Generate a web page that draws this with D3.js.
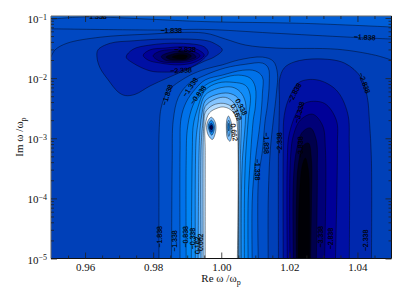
<!DOCTYPE html>
<html>
<head>
<meta charset="utf-8">
<script src="https://cdn.jsdelivr.net/npm/d3@7"></script>
<style>
body { margin: 0; background: #fff; }
svg { display: block; }
text { font-family: "Liberation Serif", serif; fill: #111; }
.lab { font-family: "Liberation Sans", sans-serif; font-size: 7px; text-anchor: middle; dominant-baseline: central; fill: #000; stroke: #000; stroke-width: 0.15; }
</style>
</head>
<body>
<svg width="407" height="291"></svg>
<script>
// contour levels and the colour of each band between them
var levels = [-5.838,-5.338,-4.838,-4.338,-3.838,-3.338,-2.838,-2.338,-2.0,-1.838,-1.338,-0.838,-0.338,0.162,0.662,1.162,1.662,2.162,2.662];
var bandColors = ["#000000","#000006","#000020","#00004c","#000078","#000098","#0010a4","#0028ae","#0040b8","#0048c2","#004ec8","#005ed8","#0072ea","#0084f4","#108cf8","#2c9cff","#54aeff","#84c4ff","#b4dcff","#ffffff"];

// axes
var xMajor = [0.96,0.98,1.00,1.02,1.04];
var xMinor = [0.955,0.965,0.97,0.975,0.985,0.99,0.995,1.005,1.01,1.015,1.025,1.03,1.035,1.045];
var yMajorExp = [-5,-4,-3,-2,-1];
var yMultiples = [2,3,4,5,6,7,8,9];

// contours, points are [Re w/wp, log10 Im w/wp]
// lines that run across the top of the plot
var topM0838 = [[.95,-1.02],[.96,-.98],[.9674,-.99],[.9791,-1.02],[.995,-1.06],[1.0244,-1.09],[1.05,-1.15]];
var topM1338 = [[.95,-1.18],[.9821,-1.2],[.995,-1.19],[1.0147,-1.25],[1.038,-1.32],[1.05,-1.35]];
var topM1838 = [[.95,-1.65],[.9512,-1.53],[.9547,-1.42],[.9644,-1.32],[.9782,-1.27],[.995,-1.25],[1.0012,-1.35],[1.0071,-1.45],[1.0162,-1.5],[1.0341,-1.52],[1.0453,-1.62],[1.05,-1.7]];

// central hump, open at the bottom
var humpM1838 = [[.9817,-5.1],[.9817,-4],[.9818,-2.82],[.9824,-2.48],[.9841,-2.23],[.9859,-2.13],[.9879,-2.05],[.9909,-1.95],[.9953,-1.85],[1.0003,-1.78],[1.005,-1.7],[1.0121,-1.65],[1.0153,-1.72],[1.0165,-1.92],[1.0162,-2.25],[1.0153,-2.7],[1.0144,-3.2],[1.0138,-4.03],[1.0138,-5.1]];
var humpM1338 = [[.9854,-5.1],[.9856,-3.37],[.9859,-2.7],[.9874,-2.32],[.9903,-2.1],[.9953,-1.95],[1.0012,-1.83],[1.0071,-1.77],[1.0121,-1.75],[1.0138,-1.83],[1.0141,-2.08],[1.0135,-2.48],[1.0129,-2.7],[1.0121,-3.2],[1.0109,-3.7],[1.0109,-5.1]];
var humpM0838 = [[.9879,-5.1],[.9879,-3.2],[.9882,-2.67],[.9897,-2.4],[.9924,-2.18],[.9953,-2.03],[1.0003,-1.95],[1.0062,-1.87],[1.01,-1.88],[1.0121,-1.98],[1.0121,-2.25],[1.0115,-2.7],[1.01,-3.37],[1.0091,-4.03],[1.0091,-5.1]];
var humpM0338 = [[.9897,-5.1],[.9897,-3.37],[.99,-2.87],[.9912,-2.53],[.9932,-2.28],[.9953,-2.12],[1.0003,-2],[1.005,-1.95],[1.0085,-2],[1.01,-2.15],[1.01,-2.48],[1.0094,-2.7],[1.0085,-3.37],[1.0079,-4.03],[1.0079,-5.1]];
var humpP0162 = [[.9912,-5.1],[.9915,-3.2],[.9918,-2.78],[.9929,-2.53],[.9953,-2.2],[.9991,-2.08],[1.0035,-2.07],[1.0071,-2.12],[1.0085,-2.28],[1.0079,-2.7],[1.0071,-3.37],[1.0068,-4.03],[1.0068,-5.1]];
var humpP0662 = [[.9924,-5.1],[.9926,-3.03],[.9932,-2.73],[.9938,-2.5],[.9953,-2.28],[.9991,-2.17],[1.0032,-2.15],[1.0056,-2.23],[1.0071,-2.4],[1.0071,-2.7],[1.0062,-3.37],[1.0059,-4.03],[1.0059,-5.1]];
var humpP1162 = [[.9932,-5.1],[.9935,-3.2],[.9938,-2.83],[.9944,-2.57],[.9953,-2.38],[.9982,-2.28],[1.0021,-2.25],[1.0047,-2.32],[1.0056,-2.45],[1.0059,-2.7],[1.0056,-3.37],[1.0055,-5.1]];
var humpP1662 = [[.9941,-5.1],[.9941,-3.12],[.9947,-2.7],[.9953,-2.47],[.9982,-2.35],[1.0012,-2.32],[1.0035,-2.4],[1.005,-2.57],[1.0053,-2.78],[1.0051,-3.37],[1.0051,-5.1]];
var humpP2162 = [[.9947,-5.1],[.9947,-3.03],[.9949,-2.78],[.9953,-2.57],[.9976,-2.45],[1.0006,-2.42],[1.0032,-2.48],[1.0047,-2.62],[1.005,-2.87],[1.0049,-5.1]];
var humpP2662 = [[.9953,-5.1],[.9953,-3.2],[.9953,-2.78],[.9965,-2.58],[.9988,-2.5],[1.0006,-2.48],[1.0026,-2.52],[1.0041,-2.62],[1.0047,-2.78],[1.0047,-5.1]];

// closed loops of the upper left minimum
var blobM2338 = [[.9635,-1.65],[.9644,-1.83],[.9668,-2.03],[.9697,-2.23],[.9718,-2.29],[.9747,-2.27],[.9791,-2.13],[.9841,-2],[.9894,-1.87],[.995,-1.72],[.9979,-1.65],[1.0003,-1.53],[.9979,-1.42],[.995,-1.37],[.9835,-1.35],[.9741,-1.38],[.9674,-1.42],[.9638,-1.53]];
var blobM2838 = [[.9721,-1.65],[.9741,-1.52],[.9791,-1.45],[.9879,-1.42],[.995,-1.48],[.9962,-1.58],[.995,-1.67],[.9924,-1.78],[.9882,-1.88],[.9835,-1.9],[.9791,-1.88],[.9741,-1.75]];
var blobM3338 = [[.9771,-1.62],[.9791,-1.53],[.9835,-1.5],[.9894,-1.48],[.9932,-1.53],[.995,-1.62],[.9924,-1.73],[.9879,-1.78],[.9821,-1.75],[.9785,-1.7]];
var blobM3838 = [[.98,-1.63],[.9821,-1.55],[.9879,-1.53],[.9924,-1.57],[.9938,-1.63],[.9909,-1.72],[.9865,-1.74],[.9821,-1.72]];
var blobM4338 = [[.9824,-1.64],[.985,-1.57],[.9885,-1.55],[.9918,-1.6],[.9926,-1.65],[.9903,-1.7],[.9865,-1.72],[.9835,-1.7]];
var blobM4838 = [[.9838,-1.65],[.9865,-1.59],[.9894,-1.58],[.9912,-1.63],[.9903,-1.68],[.9874,-1.7],[.985,-1.69]];
var blobM5338 = [[.9856,-1.65],[.9879,-1.61],[.99,-1.63],[.9894,-1.68],[.9874,-1.68]];

// right hand well, open at the bottom
var wellM2338 = [[1.0168,-5.1],[1.0168,-3.2],[1.0171,-2.37],[1.0171,-2.03],[1.0185,-1.83],[1.0215,-1.73],[1.0282,-1.68],[1.0362,-1.75],[1.0412,-2],[1.0429,-2.32],[1.0435,-2.7],[1.0441,-3.37],[1.0441,-5.1]];
var wellM2838 = [[1.0182,-5.1],[1.0182,-3.2],[1.0185,-2.62],[1.02,-2.32],[1.0229,-2.07],[1.0282,-2.03],[1.0338,-2.2],[1.0371,-2.58],[1.0376,-3.13],[1.0376,-5.1]];
var wellM3338 = [[1.0194,-5.1],[1.0194,-3.37],[1.02,-2.92],[1.0229,-2.5],[1.0253,-2.4],[1.0303,-2.42],[1.0338,-2.7],[1.0341,-3.13],[1.0335,-5.1]];
var wellM3838 = [[1.0202,-5.1],[1.0203,-3.37],[1.0212,-2.95],[1.0232,-2.7],[1.0268,-2.6],[1.0297,-2.78],[1.0306,-3.2],[1.0303,-5.1]];
var wellM4338 = [[1.0212,-5.1],[1.0212,-3.7],[1.0221,-3.2],[1.0238,-2.9],[1.0262,-2.83],[1.0279,-3.03],[1.0282,-3.53],[1.0279,-5.1]];
var wellM4838 = [[1.0221,-5.1],[1.0221,-4.03],[1.0226,-3.45],[1.0241,-3.12],[1.0256,-3.08],[1.0265,-3.37],[1.0265,-4.03],[1.0262,-5.1]];
var wellM5338 = [[1.0226,-5.1],[1.0229,-4.03],[1.0238,-3.45],[1.0247,-3.33],[1.0256,-3.53],[1.0259,-4.03],[1.0259,-5.1]];

// the two little spots inside the white part
var spotL1 = [[.9971,-2.65],[.9982,-2.73],[.9984,-2.87],[.9974,-3.02],[.9962,-2.95],[.9957,-2.82],[.9962,-2.7]];
var spotL2 = [[.9971,-2.7],[.9979,-2.77],[.9979,-2.87],[.9972,-2.95],[.9965,-2.88],[.9962,-2.78]];
var spotL3 = [[.9971,-2.75],[.9976,-2.8],[.9975,-2.87],[.9971,-2.9],[.9966,-2.85],[.9966,-2.78]];
var spotL4 = [[.9971,-2.78],[.9975,-2.82],[.9971,-2.86],[.9966,-2.82]];
var spotR1 = [[1.0021,-2.63],[1.0029,-2.73],[1.0032,-2.87],[1.0026,-3.05],[1.0018,-3],[1.0015,-2.83],[1.0016,-2.7]];
var spotR2 = [[1.0022,-2.7],[1.0026,-2.78],[1.0026,-2.9],[1.0022,-2.97],[1.0018,-2.87],[1.0018,-2.75]];
var spotR3 = [[1.0022,-2.75],[1.0024,-2.82],[1.0022,-2.88],[1.002,-2.82]];

// contour labels: text, Re, log10 Im, rotation
var contourLabels = [
  ["\u22121.338",.9632,-.98,0],["\u22121.838",.9853,-1.2,0],["\u22121.838",1.0421,-1.32,3],
  ["\u22122.838",.9894,-1.52,0],["\u22122.338",.9882,-1.87,-3],
  ["\u22121.838",.9841,-2.28,-72],["\u22121.338",.9909,-2.15,-55],["\u22120.838",.9932,-2.28,-52],
  ["0.338",1.0059,-2.48,62],["0.162",1.0044,-2.57,65],["0.662",1.0038,-2.9,82],
  ["\u22121.838",.9819,-4.64,-90],["\u22121.338",.9863,-4.71,-90],["\u22120.838",.9896,-4.64,-90],
  ["\u22120.338",.9915,-4.67,-90],["0.162",.9929,-4.78,-90],["0.662",.9939,-4.73,-90],
  ["\u22121.338",1.0107,-3.52,90],["\u22121.838",1.0134,-3.08,90],["\u22122.338",1.0171,-3.08,-90],
  ["\u22122.838",1.0215,-2.25,-62],["\u22123.338",1.0229,-2.57,-75],["\u22123.838",1.0232,-3.15,-90],
  ["\u22122.838",1.0421,-2.08,70],
  ["\u22123.338",1.0291,-4.64,-90],["\u22122.838",1.032,-4.67,-90],["\u22122.338",1.0425,-4.7,-90]
];

// painting order, each contour is filled and then outlined
var contours = [
  {pts: topM1838, level: -2.0, dir: 0.4, shape: "top"},
  {pts: topM1338, level: -1.838, dir: 1, shape: "top"},
  {pts: topM0838, level: -1.338, dir: 1, shape: "top"},
  {pts: humpM1838, level: -1.838, dir: 1, shape: "open"},
  {pts: humpM1338, level: -1.338, dir: 1, shape: "open"},
  {pts: humpM0838, level: -0.838, dir: 1, shape: "open"},
  {pts: humpM0338, level: -0.338, dir: 1, shape: "open"},
  {pts: humpP0162, level: 0.162, dir: 1, shape: "open"},
  {pts: humpP0662, level: 0.662, dir: 1, shape: "open"},
  {pts: humpP1162, level: 1.162, dir: 1, shape: "open"},
  {pts: humpP1662, level: 1.662, dir: 1, shape: "open"},
  {pts: humpP2162, level: 2.162, dir: 1, shape: "open"},
  {pts: humpP2662, level: 2.662, dir: 1, shape: "open"},
  {pts: blobM2338, level: -2.338, dir: -1, shape: "loop"},
  {pts: blobM2838, level: -2.838, dir: -1, shape: "loop"},
  {pts: blobM3338, level: -3.338, dir: -1, shape: "loop"},
  {pts: blobM3838, level: -3.838, dir: -1, shape: "loop"},
  {pts: blobM4338, level: -4.338, dir: -1, shape: "loop"},
  {pts: blobM4838, level: -4.838, dir: -1, shape: "loop"},
  {pts: blobM5338, level: -5.338, dir: -1, shape: "loop"},
  {pts: wellM2338, level: -2.338, dir: -1, shape: "open"},
  {pts: wellM2838, level: -2.838, dir: -1, shape: "open"},
  {pts: wellM3338, level: -3.338, dir: -1, shape: "open"},
  {pts: wellM3838, level: -3.838, dir: -1, shape: "open"},
  {pts: wellM4338, level: -4.338, dir: -1, shape: "open"},
  {pts: wellM4838, level: -4.838, dir: -1, shape: "open"},
  {pts: wellM5338, level: -5.338, dir: -1, shape: "open"},
  {pts: spotL1, level: 2.162, dir: -1, shape: "loop"},
  {pts: spotL2, level: 0.662, dir: -1, shape: "loop"},
  {pts: spotL3, level: -1.338, dir: -1, shape: "loop"},
  {pts: spotL4, level: -4.338, dir: -1, shape: "loop"},
  {pts: spotR1, level: 2.162, dir: -1, shape: "loop"},
  {pts: spotR2, level: 1.662, dir: -1, shape: "loop"},
  {pts: spotR3, level: 0.662, dir: -1, shape: "loop"}
];

var svg = d3.select("svg"),
    left = 51, right = 391.5, top_ = 16, bottom = 258.5;

var x = d3.scaleLinear().domain([0.95, 1.05]).range([left, right]),
    y = d3.scaleLog().domain([1e-5, Math.pow(10, -0.967)]).range([bottom, top_]),
    band = d3.scaleThreshold().domain(levels).range(bandColors);

var px = function(d) { return x(d[0]); },
    py = function(d) { return y(Math.pow(10, d[1])); };

var openLine = d3.line().x(px).y(py).curve(d3.curveCatmullRom.alpha(0.5)),
    loopLine = d3.line().x(px).y(py).curve(d3.curveCatmullRomClosed.alpha(0.5));

svg.append("clipPath").attr("id", "plot")
  .append("rect").attr("x", left).attr("y", top_).attr("width", right - left).attr("height", bottom - top_);

var g = svg.append("g").attr("clip-path", "url(#plot)");

//base band, everything else is painted on top of it
g.append("rect")
  .attr("x", left).attr("y", top_).attr("width", right - left).attr("height", bottom - top_)
  .attr("fill", band(-2.1));

contours.forEach(function(c) {
  var d = c.shape == "loop" ? loopLine(c.pts) : openLine(c.pts);
  var fillD = d;
  if (c.shape == "top") fillD = d + "L" + right + "," + top_ + "L" + left + "," + top_ + "Z";
  if (c.shape == "open") fillD = d + "Z";
  g.append("path").attr("d", fillD).attr("fill", band(c.level + c.dir * 0.25));
  g.append("path").attr("d", d).attr("fill", "none")
    .attr("stroke", "#000").attr("stroke-width", 0.7).attr("stroke-opacity", 0.6);
});

//contour labels
g.selectAll(".lab").data(contourLabels).enter().append("text")
  .attr("class", "lab")
  .attr("transform", function(d) {
    return "translate(" + x(d[1]) + "," + y(Math.pow(10, d[2])) + ") rotate(" + d[3] + ")";
  })
  .text(function(d) { return d[0]; });

//frame
svg.append("path")
  .attr("d", "M" + left + "," + bottom + "V" + top_ + "H" + right)
  .attr("fill", "none").attr("stroke", "#666").attr("stroke-width", 1);
svg.append("path")
  .attr("d", "M" + left + "," + bottom + "H" + right + "V" + top_)
  .attr("fill", "none").attr("stroke", "#111").attr("stroke-width", 1);

//x ticks, bottom and top
var xTicks = function(gen, vals, size, yPos) {
  var a = svg.append("g").attr("transform", "translate(0," + yPos + ")")
    .call(gen(x).tickValues(vals).tickSize(size).tickPadding(5).tickFormat(d3.format(".2f")));
  a.select(".domain").remove();
  a.selectAll("line").attr("stroke", "#222").attr("stroke-width", 0.8);
  return a;
};
var xb = xTicks(d3.axisBottom, xMajor, -6, bottom);
xb.selectAll("text").attr("font-size", 11).attr("dy", "0.7em");
xTicks(d3.axisBottom, xMinor, -3, bottom).selectAll("text").remove();
xTicks(d3.axisTop, xMajor, -6, top_).selectAll("text").remove();
xTicks(d3.axisTop, xMinor, -3, top_).selectAll("text").remove();

//y ticks, left and right
var yMajor = yMajorExp.map(function(e) { return Math.pow(10, e); });
var yMinor = [];
yMajorExp.forEach(function(e) {
  yMultiples.forEach(function(m) {
    var v = m * Math.pow(10, e);
    if (y(v) > top_) yMinor.push(v);
  });
});
var yTicks = function(gen, vals, size, xPos) {
  var a = svg.append("g").attr("transform", "translate(" + xPos + ",0)")
    .call(gen(y).tickValues(vals).tickSize(size).tickPadding(4).tickFormat(""));
  a.select(".domain").remove();
  a.selectAll("line").attr("stroke", "#222").attr("stroke-width", 0.8);
  return a;
};
var yl = yTicks(d3.axisLeft, yMajor, -6, left);
yTicks(d3.axisLeft, yMinor, -3, left);
yTicks(d3.axisRight, yMajor, -6, right);
yTicks(d3.axisRight, yMinor, -3, right);

yl.selectAll("text").each(function(d) {
  var t = d3.select(this).attr("font-size", 11).attr("dy", "0.42em");
  t.append("tspan").text("10");
  t.append("tspan").attr("dy", "-0.4em").attr("font-size", 8).text("\u2212" + Math.round(-Math.log10(d)));
});

//axis titles
var xt = svg.append("text").attr("x", 221).attr("y", 282).attr("text-anchor", "middle").attr("font-size", 11);
xt.append("tspan").text("Re \u03c9 /\u03c9");
xt.append("tspan").attr("dy", 2.5).attr("font-size", 8).text("p");

var yt = svg.append("text").attr("transform", "translate(23,137) rotate(-90)").attr("text-anchor", "middle").attr("font-size", 11);
yt.append("tspan").text("Im \u03c9 /\u03c9");
yt.append("tspan").attr("dy", 2.5).attr("font-size", 8).text("p");
</script>
</body>
</html>
